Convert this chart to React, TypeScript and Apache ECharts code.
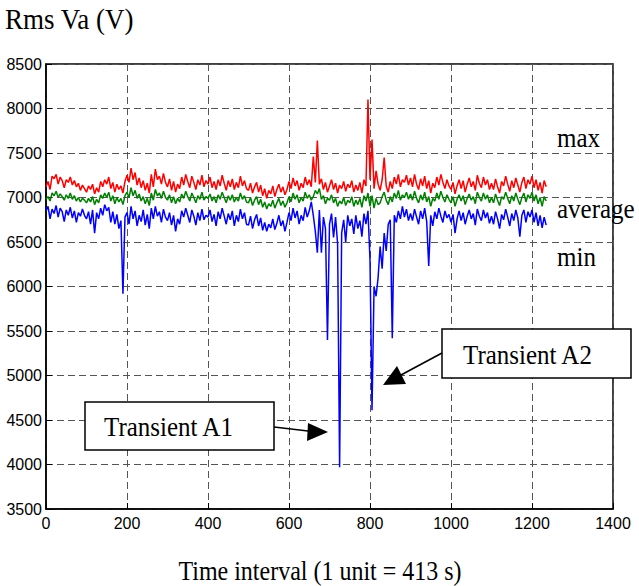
import React, { useEffect, useRef } from "react";
import * as echarts from "echarts";

// Sampling step of the time axis (units)
const STEP = 5;

const xTicks = [0, 200, 400, 600, 800, 1000, 1200, 1400];
const yTicks = [3500, 4000, 4500, 5000, 5500, 6000, 6500, 7000, 7500, 8000, 8500];

// max (red)
const maxValues = [
  // 0-95
  7120, 7180, 7090, 7240, 7210, 7260, 7150, 7230, 7190, 7110, 7200, 7170, 7230, 7140, 7190, 7120, 7160, 7080, 7140, 7100,
  // 100-195
  7060, 7130, 7090, 7150, 7040, 7110, 7060, 7180, 7120, 7200, 7150, 7230, 7100, 7170, 7060, 7150, 7090, 7130, 7050, 7180,
  // 200-295
  7250, 7170, 7330, 7200, 7280, 7140, 7220, 7110, 7190, 7080, 7160, 7050, 7260, 7120, 7320, 7200, 7240, 7150, 7270, 7170,
  // 300-395
  7120, 7210, 7080, 7180, 7060, 7150, 7100, 7230, 7140, 7260, 7180, 7110, 7240, 7170, 7090, 7200, 7140, 7250, 7120, 7190,
  // 400-495
  7150, 7230, 7110, 7180, 7090, 7200, 7130, 7250, 7160, 7080, 7190, 7120, 7210, 7090, 7170, 7110, 7240, 7130, 7190, 7100,
  // 500-595
  7080, 7160, 7050, 7120, 7170, 7060, 7140, 7020, 7100, 6990, 7080, 7040, 7130, 7010, 7090, 7150, 7060, 7120, 7030, 7090,
  // 600-695
  7180, 7100, 7220, 7130, 7190, 7080, 7160, 7110, 7230, 7140, 7200, 7120, 7460, 7170, 7640, 7150, 7210, 7090, 7170, 7060,
  // 700-795
  7130, 7200, 7090, 7160, 7050, 7140, 7100, 7180, 7070, 7150, 7110, 7190, 7060, 7140, 7080, 7170, 7050, 7200, 7130, 8100,
  // 800-895
  7200, 7650, 7100, 7300, 7150, 7080, 7200, 7450, 7130, 7060, 7180, 7100, 7230, 7150, 7260, 7120, 7200, 7170, 7250, 7140,
  // 900-995
  7220, 7120, 7260, 7150, 7090, 7210, 7130, 7240, 7100, 7190, 7050, 7160, 7110, 7230, 7140, 7260, 7170, 7100, 7200, 7130,
  // 1000-1095
  7090, 7170, 7040, 7130, 7200, 7100, 7190, 7060, 7150, 7220, 7120, 7180, 7080, 7250, 7160, 7110, 7230, 7140, 7200, 7090,
  // 1100-1195
  7160, 7090, 7210, 7120, 7050, 7180, 7130, 7240, 7150, 7070, 7190, 7110, 7220, 7140, 7060, 7170, 7230, 7100, 7200, 7150,
  // 1200-1235
  7240, 7110, 7200, 7080, 7170, 7050, 7190, 7120,
];

// average (green)
const avgValues = [
  6980, 7010, 6960, 7050, 7020, 7070, 7000, 7040, 7010, 6970, 7030, 6990, 7050, 6980, 7020, 6960, 7000, 6950, 6990, 6970,
  6940, 6990, 6950, 7010, 6920, 6980, 6940, 7030, 6990, 7050, 7000, 7060, 6960, 7020, 6930, 7000, 6950, 6990, 6920, 7020,
  7060, 7000, 7110, 7020, 7080, 6990, 7040, 6960, 7010, 6930, 6990, 6910, 7050, 6970, 7090, 7020, 7050, 6990, 7070, 7000,
  6970, 7030, 6940, 7010, 6930, 6990, 6950, 7040, 6990, 7070, 7010, 6960, 7050, 7000, 6940, 7020, 6980, 7060, 6970, 7010,
  6990, 7040, 6960, 7010, 6940, 7030, 6980, 7060, 7000, 6940, 7020, 6970, 7030, 6950, 7000, 6960, 7050, 6980, 7020, 6950,
  6940, 7000, 6910, 6970, 7010, 6920, 6980, 6890, 6950, 6870, 6930, 6900, 6970, 6880, 6940, 6990, 6910, 6960, 6890, 6940,
  7010, 6950, 7050, 6980, 7030, 6940, 7000, 6960, 7060, 6990, 7030, 6970, 7010, 7080, 7040, 7100, 6980, 7020, 6930, 6990,
  6970, 7030, 6940, 6990, 6900, 6960, 6930, 7000, 6910, 6970, 6940, 7010, 6900, 6970, 6920, 6990, 6890, 7020, 6960, 7050,
  6900, 7020, 6880, 6990, 6920, 6940, 7010, 7060, 6970, 6920, 7010, 6950, 7050, 6990, 7080, 6970, 7030, 7000, 7060, 6980,
  7040, 6970, 7070, 6990, 6940, 7030, 6970, 7060, 6950, 7010, 6900, 6990, 6960, 7050, 6980, 7070, 7000, 6950, 7030, 6980,
  6940, 7010, 6900, 6980, 7030, 6960, 7020, 6920, 6990, 7040, 6970, 7010, 6930, 7060, 7000, 6960, 7050, 6980, 7030, 6940,
  7000, 6940, 7040, 6970, 6910, 7010, 6980, 7060, 6990, 6930, 7020, 6960, 7050, 6980, 6920, 7000, 7050, 6950, 7030, 6990,
  7060, 6960, 7030, 6930, 7000, 6900, 7010, 6960,
];

// min (blue)
const minValues = [
  6850, 6900, 6760, 6870, 6820, 6910, 6780, 6880, 6840, 6730, 6860, 6800, 6890, 6770, 6850, 6720, 6830, 6790, 6870, 6800,
  6760, 6840, 6700, 6860, 6600, 6830, 6760, 6880, 6800, 6920, 6850, 6890, 6720, 6840, 6700, 6810, 6650, 6740, 5920, 6780,
  6830, 6700, 6900, 6760, 6850, 6680, 6800, 6730, 6860, 6690, 6810, 6650, 6880, 6760, 6900, 6790, 6840, 6720, 6870, 6780,
  6740, 6830, 6690, 6800, 6620, 6760, 6700, 6850, 6780, 6880, 6800, 6720, 6860, 6790, 6690, 6830, 6740, 6870, 6750, 6800,
  6780, 6860, 6730, 6810, 6680, 6840, 6760, 6880, 6790, 6700, 6820, 6750, 6850, 6680, 6800, 6730, 6870, 6760, 6830, 6700,
  6690, 6790, 6650, 6750, 6810, 6680, 6770, 6630, 6720, 6620, 6700, 6660, 6760, 6640, 6710, 6800, 6680, 6740, 6620, 6720,
  6830, 6740, 6880, 6770, 6850, 6700, 6800, 6740, 6890, 6780, 6850, 6950, 6800, 6620, 6380, 6860, 6380, 6780, 6650, 5400,
  6700, 6820, 6550, 6780, 6480, 3970, 6600, 6750, 6500, 6800, 6680, 6760, 6590, 6800, 6650, 6740, 6560, 6820, 6700, 6850,
  6300, 4610, 6000, 5890, 6100, 6450, 6200, 6600, 6400, 6700, 6750, 5420, 6800, 6720, 6850, 6760, 6900, 6780, 6870, 6740,
  6820, 6740, 6870, 6780, 6700, 6850, 6760, 6880, 6730, 6230, 6800, 6680, 6840, 6760, 6880, 6790, 6720, 6850, 6770, 6810,
  6720, 6810, 6600, 6760, 6850, 6740, 6830, 6700, 6790, 6860, 6760, 6820, 6690, 6870, 6790, 6740, 6860, 6770, 6830, 6710,
  6790, 6700, 6840, 6760, 6650, 6810, 6750, 6870, 6780, 6680, 6820, 6740, 6860, 6770, 6560, 6800, 6860, 6720, 6840, 6780,
  6860, 6720, 6830, 6680, 6800, 6660, 6780, 6690,
];

const SERIF = "'Liberation Serif', 'Times New Roman', Times, serif";
const SANS = "'Liberation Sans', Arial, Helvetica, sans-serif";

const toPairs = (vals: number[]) => vals.map((v, i) => [i * STEP, v]);

function txt(text: string, x: number, y: number, size: number, align = "left", sy = 1.12) {
  return {
    type: "text",
    x,
    y,
    scaleY: sy,
    z: 110,
    style: {
      text,
      fill: "#000",
      fontSize: size,
      fontFamily: SERIF,
      textAlign: align,
      textVerticalAlign: "middle",
      align,
      verticalAlign: "middle",
    },
  };
}

export default function App() {
  const ref = useRef<HTMLDivElement>(null);
  useEffect(() => {
    if (!ref.current) return;
    const chart = echarts.init(ref.current, undefined, { renderer: "svg" });
    const grid = { color: "#555", type: [7, 4], width: 1 };
    const plain = (v: number) => String(v);
    const option: any = {
      animation: false,
      backgroundColor: "#fff",
      grid: {
        left: 46,
        top: 64,
        width: 567,
        height: 445,
        show: true,
        borderColor: "#000",
        borderWidth: 1.5,
        backgroundColor: "transparent",
      },
      xAxis: {
        type: "value",
        min: xTicks[0],
        max: xTicks[xTicks.length - 1],
        interval: 200,
        axisLine: { show: true, onZero: false, lineStyle: { color: "#000", width: 1.5 } },
        axisTick: { show: true, inside: true, length: 6, lineStyle: { color: "#000" } },
        axisLabel: { color: "#000", fontSize: 16, fontFamily: SANS, margin: 6, formatter: plain },
        splitLine: { show: true, lineStyle: grid },
      },
      yAxis: {
        type: "value",
        min: yTicks[0],
        max: yTicks[yTicks.length - 1],
        interval: 500,
        axisLine: { show: true, onZero: false, lineStyle: { color: "#000", width: 1.5 } },
        axisTick: { show: true, inside: true, length: 6, lineStyle: { color: "#000" } },
        axisLabel: { color: "#000", fontSize: 16, fontFamily: SANS, margin: 4, formatter: plain },
        splitLine: { show: true, lineStyle: grid },
      },
      series: [
        {
          name: "max",
          type: "line",
          data: toPairs(maxValues),
          showSymbol: false,
          symbol: "none",
          lineStyle: { color: "#ff0000", width: 1.5 },
        },
        {
          name: "average",
          type: "line",
          data: toPairs(avgValues),
          showSymbol: false,
          symbol: "none",
          lineStyle: { color: "#008000", width: 1.5 },
        },
        {
          name: "min",
          type: "line",
          data: toPairs(minValues),
          showSymbol: false,
          symbol: "none",
          lineStyle: { color: "#0000ff", width: 1.5 },
        },
      ],
      graphic: [
        txt("Rms Va (V)", 5, 19, 27, "left", 1.1),
        txt("Time interval (1 unit = 413 s)", 320, 571, 24, "center", 1.1),
        txt("max", 557, 138, 25),
        txt("average", 557, 209, 25),
        txt("min", 557, 257, 25),
        {
          type: "rect",
          z: 100,
          shape: { x: 85, y: 402, width: 189, height: 48 },
          style: { fill: "#fff", stroke: "#000", lineWidth: 1.5 },
        },
        txt("Transient A1", 104, 427, 25),
        {
          type: "line",
          z: 100,
          shape: { x1: 274, y1: 427, x2: 308, y2: 431 },
          style: { stroke: "#000", lineWidth: 1.5 },
        },
        {
          type: "polygon",
          z: 100,
          shape: { points: [[328, 432], [308, 423], [307, 441]] },
          style: { fill: "#000" },
        },
        {
          type: "rect",
          z: 100,
          shape: { x: 442, y: 329, width: 189, height: 49 },
          style: { fill: "#fff", stroke: "#000", lineWidth: 1.5 },
        },
        txt("Transient A2", 463, 355, 25),
        {
          type: "line",
          z: 100,
          shape: { x1: 442, y1: 353, x2: 401, y2: 375 },
          style: { stroke: "#000", lineWidth: 1.5 },
        },
        {
          type: "polygon",
          z: 100,
          shape: { points: [[383, 385], [397, 366], [406, 384]] },
          style: { fill: "#000" },
        },
      ],
    };
    chart.setOption(option);
    return () => chart.dispose();
  }, []);
  return (
    <div
      ref={ref}
      style={{ position: "absolute", left: 0, top: 0, width: 639, height: 586, background: "#fff" }}
    />
  );
}
